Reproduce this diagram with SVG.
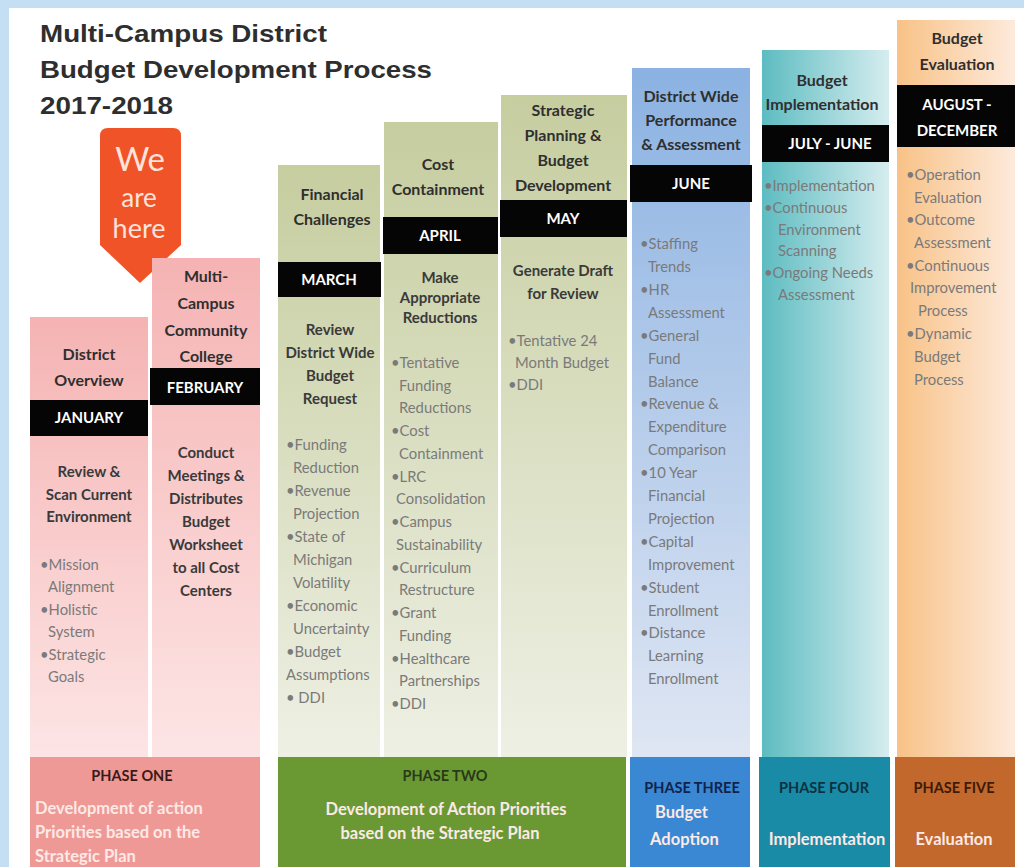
<svg xmlns="http://www.w3.org/2000/svg" width="1024" height="867" viewBox="0 0 1024 867">
<defs>
<linearGradient id="gPink" x1="0" y1="0" x2="0" y2="1"><stop offset="0" stop-color="#f5b3b3"/><stop offset="1" stop-color="#fde5e5"/></linearGradient>
<linearGradient id="gGreen" x1="0" y1="0" x2="0" y2="1"><stop offset="0" stop-color="#c6cd9f"/><stop offset="1" stop-color="#eef0e4"/></linearGradient>
<linearGradient id="gBlue" x1="0" y1="0" x2="0" y2="1"><stop offset="0" stop-color="#8bb2e2"/><stop offset="1" stop-color="#dfe6f3"/></linearGradient>
<linearGradient id="gTeal" x1="0" y1="0" x2="1" y2="0"><stop offset="0" stop-color="#5dbcc1"/><stop offset="1" stop-color="#d6edef"/></linearGradient>
<linearGradient id="gOrange" x1="0" y1="0" x2="1" y2="0"><stop offset="0" stop-color="#f8c287"/><stop offset="1" stop-color="#fdeadb"/></linearGradient>
<style>
text{font-family:Lato,"Liberation Sans",sans-serif}
.title{font-family:"Liberation Sans",Arial,sans-serif;font-weight:bold;font-size:24px;fill:#2e2e2e}
.hd{font-weight:bold;font-size:16px;fill:#2f2f2f;text-anchor:middle}
.band{fill:#050505}
.bt{font-weight:bold;font-size:15px;fill:#ffffff;text-anchor:middle}
.sub{font-weight:bold;font-size:15px;fill:#3a3a3a;text-anchor:middle}
.bl{font-size:14.8px;fill:#7a7a7a}
.ph{font-weight:bold;font-size:14.5px;text-anchor:middle}
.pw{font-weight:bold;font-size:16.5px;fill:#fde9e6}
</style>
</defs>
<rect x="0" y="0" width="1024" height="867" fill="#ffffff"/>
<rect x="0" y="0" width="1024" height="8" fill="#c4def3"/>
<rect x="0" y="0" width="9" height="867" fill="#c4def3"/>

<g id="title">
<text class="title" x="40" y="42" textLength="287" lengthAdjust="spacingAndGlyphs">Multi-Campus District</text>
<text class="title" x="40" y="78" textLength="392" lengthAdjust="spacingAndGlyphs">Budget Development Process</text>
<text class="title" x="40" y="114" textLength="133" lengthAdjust="spacingAndGlyphs">2017-2018</text>
</g>

<g id="we-are-here">
<path d="M100,136 Q100,128 108,128 L173,128 Q181,128 181,136 L181,245 L140,283 L100,245 Z" fill="#ef5327"/>
<text x="140" y="171" text-anchor="middle" font-size="33" fill="#fde3da">We</text>
<text x="139" y="207" text-anchor="middle" font-size="26" fill="#fde3da">are</text>
<text x="139" y="238" text-anchor="middle" font-size="27" fill="#fde3da">here</text>
</g>

<g id="col-january">
<rect x="30" y="317" width="118" height="440" fill="url(#gPink)"/>
<text class="hd" x="89" y="360" font-size="19">District</text>
<text class="hd" x="89" y="386" font-size="19">Overview</text>
<rect class="band" x="30" y="400" width="118" height="36"/>
<text class="bt" x="89" y="423">JANUARY</text>
<text class="sub" x="89" y="477" font-size="16">Review &amp;</text>
<text class="sub" x="89" y="500" font-size="16">Scan Current</text>
<text class="sub" x="89" y="522" font-size="16">Environment</text>
<text class="bl" x="40" y="570">•Mission</text>
<text class="bl" x="48" y="592">Alignment</text>
<text class="bl" x="40" y="615">•Holistic</text>
<text class="bl" x="48" y="637">System</text>
<text class="bl" x="40" y="660">•Strategic</text>
<text class="bl" x="48" y="682">Goals</text>
</g>

<g id="col-february">
<rect x="152" y="258" width="108" height="499" fill="url(#gPink)"/>
<text class="hd" x="206" y="282" font-size="19">Multi-</text>
<text class="hd" x="206" y="309" font-size="19">Campus</text>
<text class="hd" x="206" y="336" font-size="19">Community</text>
<text class="hd" x="206" y="362" font-size="19">College</text>
<rect class="band" x="150" y="368" width="110" height="37"/>
<text class="bt" x="205" y="393" font-size="17">FEBRUARY</text>
<text class="sub" x="206" y="458" font-size="15.5">Conduct</text>
<text class="sub" x="206" y="481" font-size="15.5">Meetings &amp;</text>
<text class="sub" x="206" y="504" font-size="15.5">Distributes</text>
<text class="sub" x="206" y="527" font-size="15.5">Budget</text>
<text class="sub" x="206" y="550" font-size="15.5">Worksheet</text>
<text class="sub" x="206" y="573" font-size="15.5">to all Cost</text>
<text class="sub" x="206" y="596" font-size="15.5">Centers</text>
</g>

<g id="col-march">
<rect x="278" y="165" width="102" height="592" fill="url(#gGreen)"/>
<text class="hd" x="332" y="200" font-size="18" fill="#2e3320">Financial</text>
<text class="hd" x="332" y="225" font-size="18" fill="#2e3320">Challenges</text>
<rect class="band" x="278" y="262" width="103" height="35"/>
<text class="bt" x="329" y="285">MARCH</text>
<text class="sub" x="330" y="335">Review</text>
<text class="sub" x="330" y="358">District Wide</text>
<text class="sub" x="330" y="381">Budget</text>
<text class="sub" x="330" y="404">Request</text>
<text class="bl" x="286" y="450">•Funding</text>
<text class="bl" x="293" y="473">Reduction</text>
<text class="bl" x="286" y="496">•Revenue</text>
<text class="bl" x="293" y="519">Projection</text>
<text class="bl" x="286" y="542">•State of</text>
<text class="bl" x="293" y="565">Michigan</text>
<text class="bl" x="293" y="588">Volatility</text>
<text class="bl" x="286" y="611">•Economic</text>
<text class="bl" x="293" y="634">Uncertainty</text>
<text class="bl" x="286" y="657">•Budget</text>
<text class="bl" x="286" y="680">Assumptions</text>
<text class="bl" x="286" y="703">• DDI</text>
</g>

<g id="col-april">
<rect x="384" y="122" width="114" height="635" fill="url(#gGreen)"/>
<text class="hd" x="438" y="170" fill="#2e3320">Cost</text>
<text class="hd" x="438" y="195" fill="#2e3320">Containment</text>
<rect class="band" x="383" y="217" width="115" height="37"/>
<text class="bt" x="440" y="241">APRIL</text>
<text class="sub" x="440" y="283" font-size="13">Make</text>
<text class="sub" x="440" y="303" font-size="13">Appropriate</text>
<text class="sub" x="440" y="323" font-size="13">Reductions</text>
<text class="bl" x="391" y="368">•Tentative</text>
<text class="bl" x="399" y="391">Funding</text>
<text class="bl" x="399" y="413">Reductions</text>
<text class="bl" x="391" y="436">•Cost</text>
<text class="bl" x="399" y="459">Containment</text>
<text class="bl" x="391" y="482">•LRC</text>
<text class="bl" x="396" y="504">Consolidation</text>
<text class="bl" x="391" y="527">•Campus</text>
<text class="bl" x="396" y="550">Sustainability</text>
<text class="bl" x="391" y="573">•Curriculum</text>
<text class="bl" x="399" y="595">Restructure</text>
<text class="bl" x="391" y="618">•Grant</text>
<text class="bl" x="399" y="641">Funding</text>
<text class="bl" x="391" y="664">•Healthcare</text>
<text class="bl" x="399" y="686">Partnerships</text>
<text class="bl" x="391" y="709">•DDI</text>
</g>

<g id="col-may">
<rect x="501" y="95" width="126" height="662" fill="url(#gGreen)"/>
<text class="hd" x="563" y="116" font-size="15" fill="#2e3320">Strategic</text>
<text class="hd" x="563" y="141" font-size="15" fill="#2e3320">Planning &amp;</text>
<text class="hd" x="563" y="166" font-size="15" fill="#2e3320">Budget</text>
<text class="hd" x="563" y="191" font-size="15" fill="#2e3320">Development</text>
<rect class="band" x="500" y="200" width="127" height="37"/>
<text class="bt" x="563" y="224">MAY</text>
<text class="sub" x="563" y="276" font-size="15.5">Generate Draft</text>
<text class="sub" x="563" y="299" font-size="15.5">for Review</text>
<text class="bl" x="508" y="346">•Tentative 24</text>
<text class="bl" x="515" y="368">Month Budget</text>
<text class="bl" x="508" y="390">•DDI</text>
</g>

<g id="col-june">
<rect x="632" y="68" width="118" height="689" fill="url(#gBlue)"/>
<text class="hd" x="691" y="102" font-size="15" fill="#1f2c48">District Wide</text>
<text class="hd" x="691" y="126" font-size="15" fill="#1f2c48">Performance</text>
<text class="hd" x="691" y="150" font-size="15" fill="#1f2c48">&amp; Assessment</text>
<rect class="band" x="630" y="165" width="122" height="37"/>
<text class="bt" x="691" y="189">JUNE</text>
<text class="bl" x="640" y="249" fill="#68748a">•Staffing</text>
<text class="bl" x="648" y="272" fill="#68748a">Trends</text>
<text class="bl" x="640" y="295" fill="#68748a">•HR</text>
<text class="bl" x="648" y="318" fill="#68748a">Assessment</text>
<text class="bl" x="640" y="341" fill="#68748a">•General</text>
<text class="bl" x="648" y="364" fill="#68748a">Fund</text>
<text class="bl" x="648" y="387" fill="#68748a">Balance</text>
<text class="bl" x="640" y="409" fill="#68748a">•Revenue &amp;</text>
<text class="bl" x="648" y="432" fill="#68748a">Expenditure</text>
<text class="bl" x="648" y="455" fill="#68748a">Comparison</text>
<text class="bl" x="640" y="478" fill="#68748a">•10 Year</text>
<text class="bl" x="648" y="501" fill="#68748a">Financial</text>
<text class="bl" x="648" y="524" fill="#68748a">Projection</text>
<text class="bl" x="640" y="547" fill="#68748a">•Capital</text>
<text class="bl" x="648" y="570" fill="#68748a">Improvement</text>
<text class="bl" x="640" y="593" fill="#68748a">•Student</text>
<text class="bl" x="648" y="616" fill="#68748a">Enrollment</text>
<text class="bl" x="640" y="638" fill="#68748a">•Distance</text>
<text class="bl" x="648" y="661" fill="#68748a">Learning</text>
<text class="bl" x="648" y="684" fill="#68748a">Enrollment</text>
</g>

<g id="col-july">
<rect x="762" y="50" width="127" height="707" fill="url(#gTeal)"/>
<text class="hd" x="822" y="86" font-size="14.5" fill="#1d2f30">Budget</text>
<text class="hd" x="822" y="110" font-size="14.5" fill="#1d2f30">Implementation</text>
<rect class="band" x="762" y="125" width="127" height="37"/>
<text class="bt" x="830" y="149" font-size="16.5">JULY - JUNE</text>
<text class="bl" x="764" y="191" fill="#3f6f70" font-size="15.3">•Implementation</text>
<text class="bl" x="764" y="213" fill="#3f6f70" font-size="15.3">•Continuous</text>
<text class="bl" x="778" y="235" fill="#3f6f70" font-size="15.3">Environment</text>
<text class="bl" x="778" y="256" fill="#3f6f70" font-size="15.3">Scanning</text>
<text class="bl" x="764" y="278" fill="#3f6f70" font-size="15.3">•Ongoing Needs</text>
<text class="bl" x="778" y="300" fill="#3f6f70" font-size="15.3">Assessment</text>
</g>

<g id="col-august">
<rect x="897" y="20" width="118" height="737" fill="url(#gOrange)"/>
<text class="hd" x="957" y="44" font-size="19" fill="#3a2a1c">Budget</text>
<text class="hd" x="957" y="70" font-size="19" fill="#3a2a1c">Evaluation</text>
<rect class="band" x="897" y="85" width="118" height="62"/>
<text class="bt" x="957" y="110" font-size="17.5">AUGUST -</text>
<text class="bt" x="957" y="136" font-size="17.5">DECEMBER</text>
<text class="bl" x="906" y="180" fill="#8a7a6c">•Operation</text>
<text class="bl" x="914" y="203" fill="#8a7a6c">Evaluation</text>
<text class="bl" x="906" y="225" fill="#8a7a6c">•Outcome</text>
<text class="bl" x="914" y="248" fill="#8a7a6c">Assessment</text>
<text class="bl" x="906" y="271" fill="#8a7a6c">•Continuous</text>
<text class="bl" x="910" y="293" fill="#8a7a6c">Improvement</text>
<text class="bl" x="918" y="316" fill="#8a7a6c">Process</text>
<text class="bl" x="906" y="339" fill="#8a7a6c">•Dynamic</text>
<text class="bl" x="914" y="362" fill="#8a7a6c">Budget</text>
<text class="bl" x="914" y="385" fill="#8a7a6c">Process</text>
</g>

<g id="phase-one">
<rect x="30" y="757" width="230" height="110" fill="#ef9996"/>
<text class="ph" x="132" y="781" font-size="16.5" fill="#3a1a1a">PHASE ONE</text>
<text class="pw" x="35" y="814" font-size="17">Development of action</text>
<text class="pw" x="35" y="838" font-size="17">Priorities based on the</text>
<text class="pw" x="35" y="862" font-size="17">Strategic Plan</text>
</g>
<g id="phase-two">
<rect x="278" y="757" width="348" height="110" fill="#6a9934"/>
<text class="ph" x="445" y="781" font-size="15.5" fill="#2a3a18">PHASE TWO</text>
<text class="pw" x="446" y="815" text-anchor="middle" font-size="17" fill="#eaf2dc">Development of Action Priorities</text>
<text class="pw" x="440" y="839" text-anchor="middle" font-size="17" fill="#eaf2dc">based on the Strategic Plan</text>
</g>
<g id="phase-three">
<rect x="630" y="757" width="120" height="110" fill="#3a87d3"/>
<text class="ph" x="692" y="793" fill="#11234a">PHASE THREE</text>
<text class="pw" x="655" y="818" fill="#e8f1fb">Budget</text>
<text class="pw" x="650" y="845" fill="#e8f1fb">Adoption</text>
</g>
<g id="phase-four">
<rect x="759" y="757" width="131" height="110" fill="#1a8ba6"/>
<text class="ph" x="824" y="793" fill="#0c3242">PHASE FOUR</text>
<text class="pw" x="827" y="845" text-anchor="middle" font-size="17" fill="#e4f4f8">Implementation</text>
</g>
<g id="phase-five">
<rect x="895" y="757" width="120" height="110" fill="#c2682c"/>
<text class="ph" x="954" y="793" fill="#3e1a08">PHASE FIVE</text>
<text class="pw" x="954" y="845" text-anchor="middle" font-size="17" fill="#fbe9dc">Evaluation</text>
</g>
<g id="connectors"></g>
</svg>
